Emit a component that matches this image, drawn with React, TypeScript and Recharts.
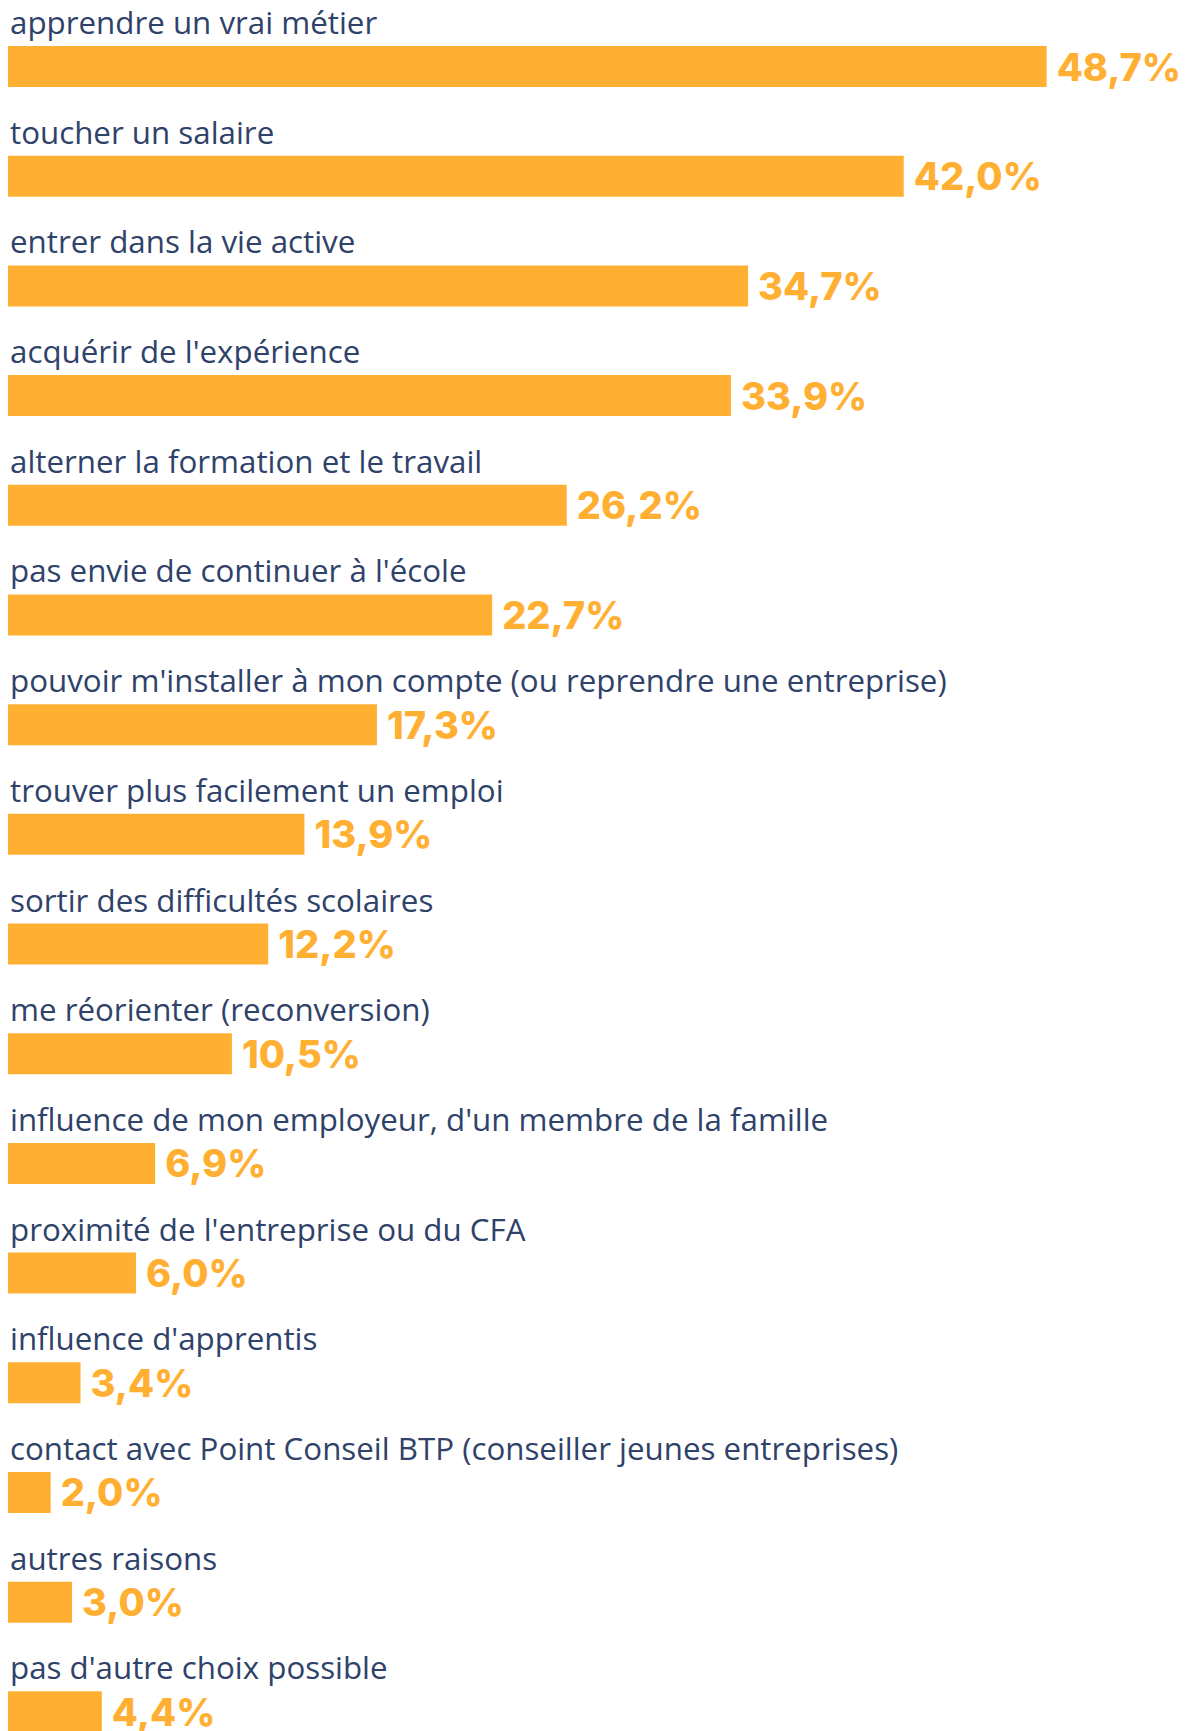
import React from 'react';
import { BarChart, Bar, XAxis, YAxis, LabelList } from 'recharts';

const CATEGORIES = [
  'apprendre un vrai métier',
  'toucher un salaire',
  'entrer dans la vie active',
  "acquérir de l'expérience",
  'alterner la formation et le travail',
  "pas envie de continuer à l'école",
  "pouvoir m'installer à mon compte (ou reprendre une entreprise)",
  'trouver plus facilement un emploi',
  'sortir des difficultés scolaires',
  'me réorienter (reconversion)',
  "influence de mon employeur, d'un membre de la famille",
  "proximité de l'entreprise ou du CFA",
  "influence d'apprentis",
  'contact avec Point Conseil BTP (conseiller jeunes entreprises)',
  'autres raisons',
  "pas d'autre choix possible",
];

const VALUES = [48.7, 42.0, 34.7, 33.9, 26.2, 22.7, 17.3, 13.9, 12.2, 10.5, 6.9, 6.0, 3.4, 2.0, 3.0, 4.4];

const ORANGE = '#ffb033';
const NAVY = '#2f4269';

const data = CATEGORIES.map((name, i) => ({ name, value: VALUES[i] }));

const fmt = (v: number) => v.toFixed(1).replace('.', ',') + '%';

const NameLabel = (props: any) => {
  const { x, y, value } = props;
  return (
    <text x={x + 2} y={y - 12} fill={NAVY} fontSize={31.3} fontFamily="'Open Sans', sans-serif">
      {value}
    </text>
  );
};

const ValueLabel = (props: any) => {
  const { x, y, width, height, value } = props;
  return (
    <text
      x={x + width + 10}
      y={y + height / 2 + 14}
      fill={ORANGE}
      fontSize={38}
      fontWeight={800}
      fontFamily="Inter, sans-serif"
    >
      {fmt(value)}
    </text>
  );
};

export default function App() {
  return (
    <div style={{ width: 1181, height: 1723, overflow: 'hidden' }}>
      <BarChart
        width={1181}
        height={1760}
        data={data}
        layout="vertical"
        margin={{ top: 4, right: 8, bottom: 1, left: 0 }}
      >
        <XAxis type="number" domain={[0, 55]} hide />
        <YAxis type="category" dataKey="name" hide />
        <Bar dataKey="value" fill={ORANGE} barSize={41} isAnimationActive={false}>
          <LabelList dataKey="name" content={NameLabel} />
          <LabelList dataKey="value" content={ValueLabel} />
        </Bar>
      </BarChart>
    </div>
  );
}
